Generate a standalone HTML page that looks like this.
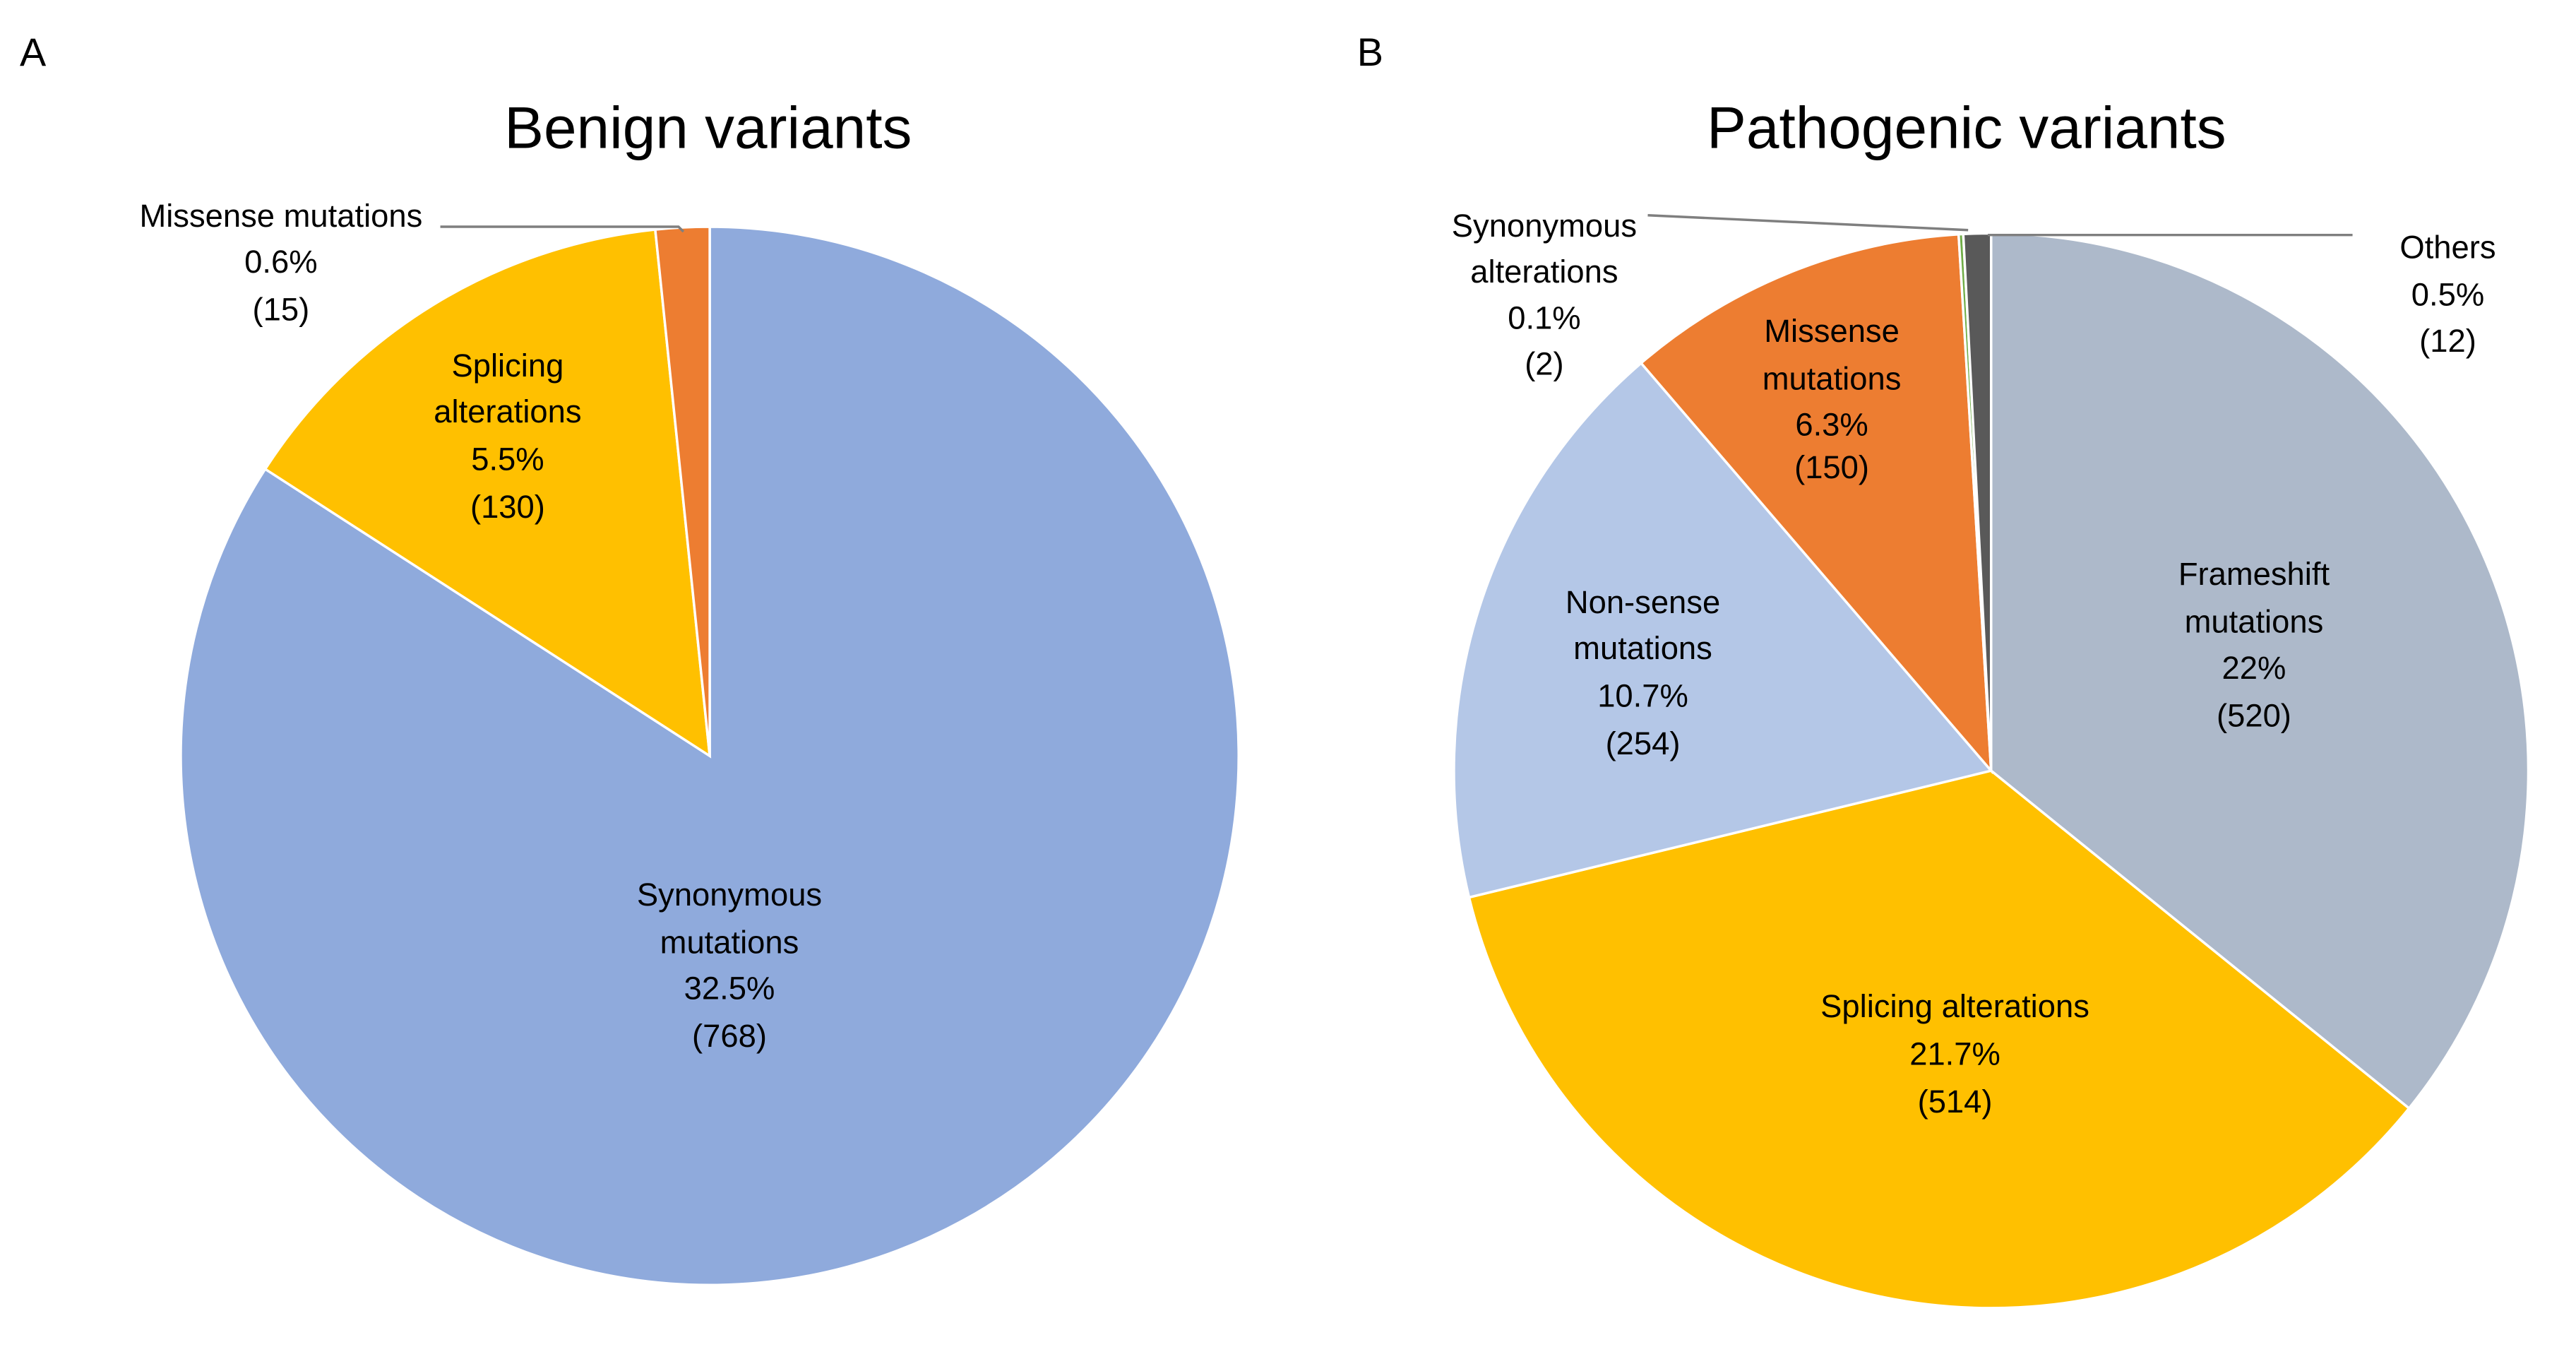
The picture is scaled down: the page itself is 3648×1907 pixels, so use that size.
<!DOCTYPE html>
<html><head><meta charset="utf-8"><style>
html,body{margin:0;padding:0;background:#fff;}
svg{display:block;font-family:"Liberation Sans",sans-serif;}
</style></head><body>
<svg width="3648" height="1907" viewBox="0 0 1568 819.7">
<g id="pieA"></g>
<g id="pieB"></g>
<text x="12" y="40" font-size="24">A</text>
<text x="826" y="40" font-size="24">B</text>
<text x="431" y="90" font-size="36" text-anchor="middle">Benign variants</text>
<text x="1197" y="90" font-size="36" text-anchor="middle">Pathogenic variants</text>
<g font-size="19.5" text-anchor="middle" fill="#000" id="labels">
<polyline points="268,138 413,138 416,141" fill="none" stroke="#7f7f7f" stroke-width="1.5"/>
<polyline points="1003,131 1198,140" fill="none" stroke="#7f7f7f" stroke-width="1.5"/>
<polyline points="1432,143 1210,143" fill="none" stroke="#7f7f7f" stroke-width="1.5"/>
<g><text x="171" y="138">Missense mutations</text><text x="171" y="166">0.6%</text><text x="171" y="195">(15)</text></g>
<g><text x="309" y="229">Splicing</text><text x="309" y="257">alterations</text><text x="309" y="286">5.5%</text><text x="309" y="315">(130)</text></g>
<g><text x="444" y="551">Synonymous</text><text x="444" y="580">mutations</text><text x="444" y="608">32.5%</text><text x="444" y="637">(768)</text></g>
<g><text x="940" y="144">Synonymous</text><text x="940" y="172">alterations</text><text x="940" y="200">0.1%</text><text x="940" y="228">(2)</text></g>
<g><text x="1490" y="157">Others</text><text x="1490" y="186">0.5%</text><text x="1490" y="214">(12)</text></g>
<g><text x="1115" y="208">Missense</text><text x="1115" y="237">mutations</text><text x="1115" y="265">6.3%</text><text x="1115" y="291">(150)</text></g>
<g><text x="1000" y="373">Non-sense</text><text x="1000" y="401">mutations</text><text x="1000" y="430">10.7%</text><text x="1000" y="459">(254)</text></g>
<g><text x="1372" y="356">Frameshift</text><text x="1372" y="385">mutations</text><text x="1372" y="413">22%</text><text x="1372" y="442">(520)</text></g>
<g><text x="1190" y="619">Splicing alterations</text><text x="1190" y="648">21.7%</text><text x="1190" y="677">(514)</text></g>
</g>
</svg>
<script>
const catsA = ["synonymous","splicing","missense"];
const valsA = [768,130,15];
const colsA = ["#8FAADC","#FFC000","#ED7D31"];
const catsB = ["frameshift","splicing","nonsense","missense","synonymous","others"];
const valsB = [520,514,254,150,2,12];
const colsB = ["#ADB9CA","#FFC000","#B4C7E7","#ED7D31","#70AD47","#595959"];
const NS="http://www.w3.org/2000/svg";
function pie(gid,cats,vals,cols,cx,cy,r){
  const g=document.getElementById(gid);
  const tot=vals.reduce((a,b)=>a+b,0);
  let a0=0;
  vals.forEach((v,i)=>{
    const a1=a0+v/tot*2*Math.PI;
    const p=t=>[cx+r*Math.sin(t),cy-r*Math.cos(t)];
    const [x0,y0]=p(a0),[x1,y1]=p(a1);
    const large=(a1-a0)>Math.PI?1:0;
    const path=document.createElementNS(NS,"path");
    path.setAttribute("d",`M${cx},${cy} L${x0},${y0} A${r},${r} 0 ${large} 1 ${x1},${y1} Z`);
    path.setAttribute("fill",cols[i]);
    path.setAttribute("stroke","#fff");
    path.setAttribute("stroke-width","1.5");
    
    
    g.appendChild(path);
    a0=a1;
  });
}
pie("pieA",catsA,valsA,colsA,432,460,322);
pie("pieB",catsB,valsB,colsB,1212,469,327);
</script>
</body></html>
